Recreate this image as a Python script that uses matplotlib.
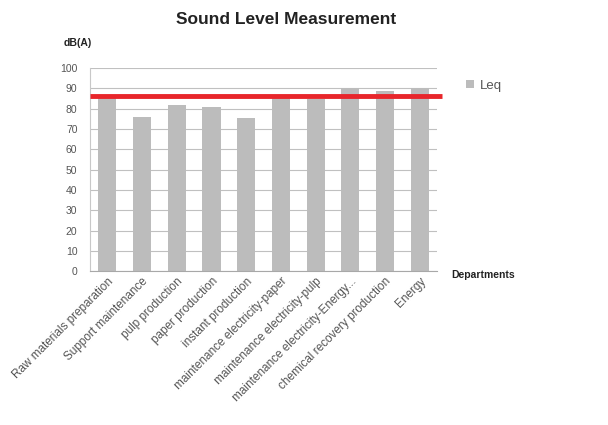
import matplotlib

matplotlib.use("Agg")
import matplotlib.pyplot as plt

departments = [
    "Raw materials preparation",
    "Support maintenance",
    "pulp production",
    "paper production",
    "instant production",
    "maintenance electricity-paper",
    "maintenance electricity-pulp",
    "maintenance electricity-Energy...",
    "chemical recovery production",
    "Energy",
]
leq = [86, 75.7, 82, 81, 75.4, 86, 84.7, 90, 88.8, 90]
limit_db = 86

plt.rcParams["font.family"] = ["Liberation Sans", "DejaVu Sans"]

fig = plt.figure(figsize=(6.08, 4.25), dpi=100)
ax = fig.add_axes([0.148, 0.362, 0.571, 0.478])

x = list(range(len(departments)))
ax.bar(x, leq, width=0.52, color="#bcbcbc", label="Leq", zorder=2)
ax.plot([-0.5, 9.65], [limit_db, limit_db], color="#e8262b", lw=3.5,
        solid_capstyle="butt", clip_on=False, zorder=3)

ax.set_xlim(-0.5, 9.5)
ax.set_ylim(0, 100)
ax.set_yticks(range(0, 101, 10))
ax.grid(axis="y", color="#c0c0c0", lw=0.8, zorder=0)
ax.set_axisbelow(True)
for s in ("top", "right"):
    ax.spines[s].set_visible(False)
ax.spines["left"].set_color("#c8c8c8")
ax.spines["bottom"].set_color("#a8a8a8")
ax.tick_params(axis="y", length=0, labelsize=7.5, colors="#555555", pad=9)
ax.tick_params(axis="x", length=0, labelsize=8.5, colors="#555555", pad=3)
ax.set_xticks(x)
ax.set_xticklabels(departments, rotation=45, ha="right", rotation_mode="anchor")

fig.text(0.47, 0.953, "Sound Level Measurement", ha="center", va="center",
         fontsize=12.5, fontweight="bold", color="#222222")
fig.text(0.105, 0.898, "dB(A)", ha="left", va="center", fontsize=7.5,
         fontweight="bold", color="#222222")
fig.text(0.743, 0.353, "Departments", ha="left", va="center", fontsize=7.5,
         fontweight="bold", color="#222222")

ax.legend(loc="upper left", bbox_to_anchor=(1.05, 1.0), frameon=False,
          fontsize=9.5, handlelength=0.6, handleheight=0.6, handletextpad=0.4,
          labelcolor="#555555")

fig.savefig("out.png", dpi=100)
